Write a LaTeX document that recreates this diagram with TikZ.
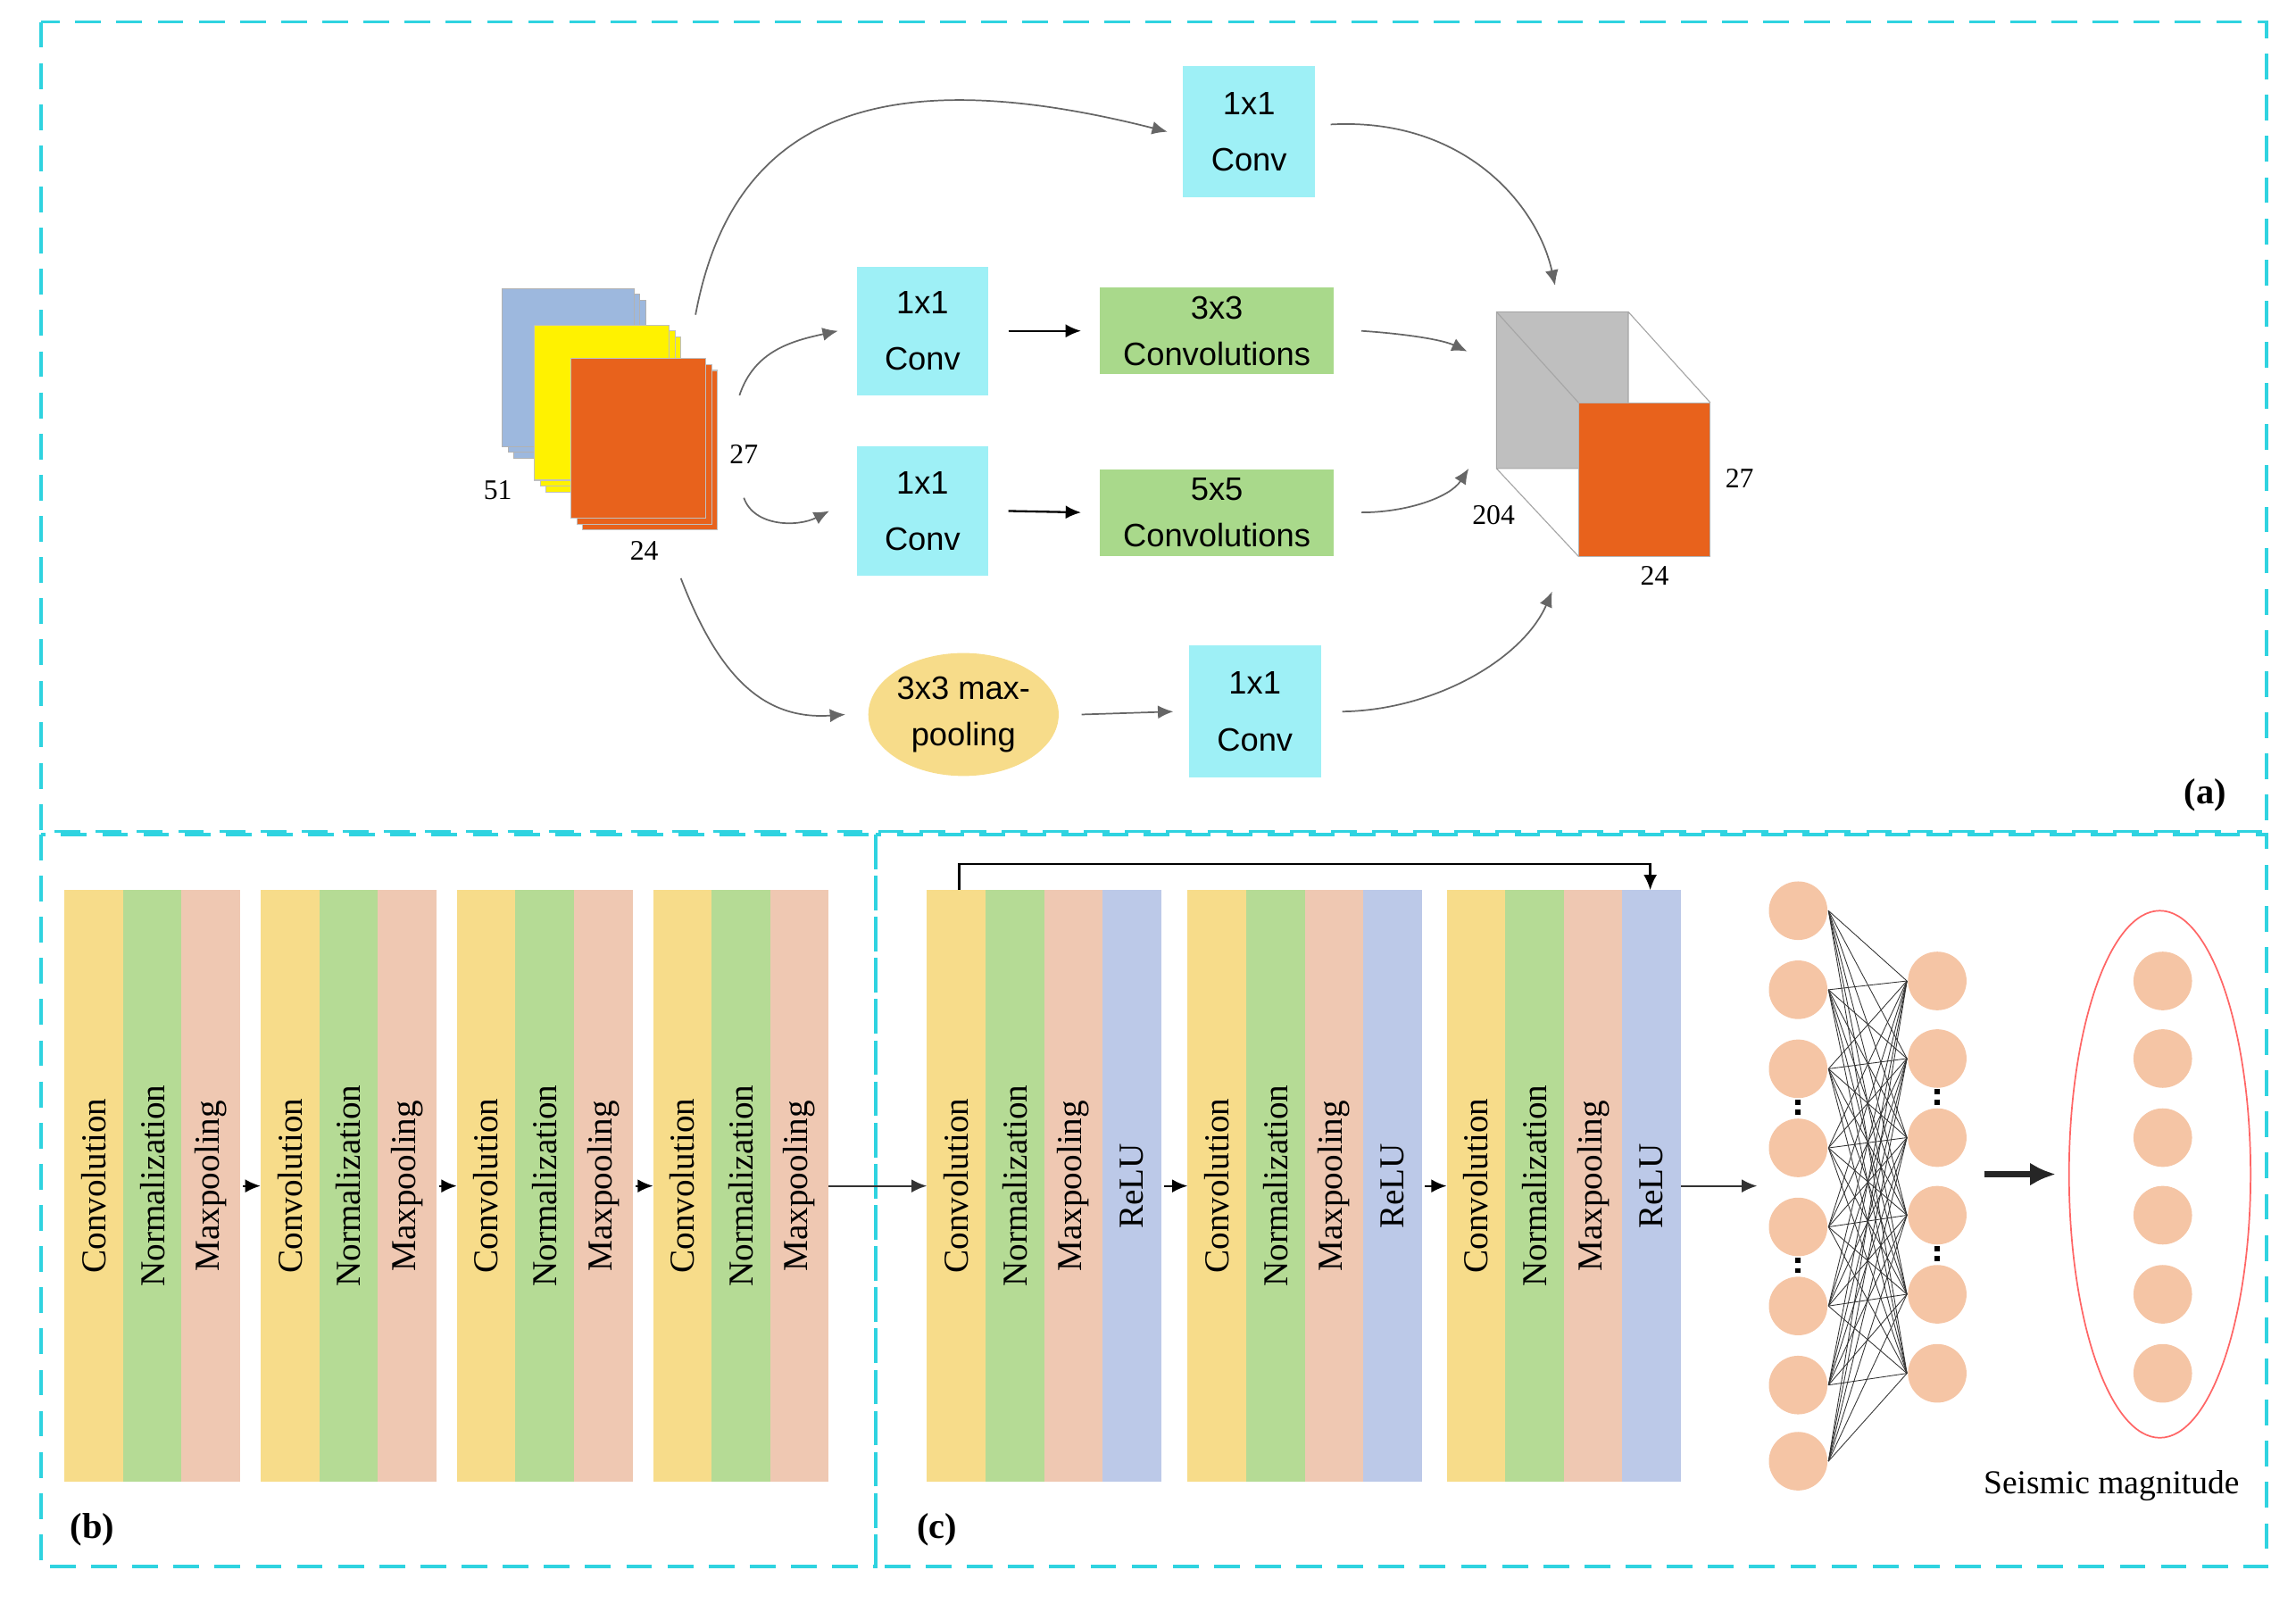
\documentclass[tikz,border=0pt]{standalone}
\usepackage{fontspec}
\setmainfont{Liberation Serif}
\newfontfamily\sansf{Liberation Sans}
\usetikzlibrary{arrows.meta,shapes.geometric}
\definecolor{cy}{HTML}{9EF0F6}
\definecolor{gr}{HTML}{A9D98B}
\definecolor{sy}{HTML}{F7DC8A}
\definecolor{sg}{HTML}{B5DB95}
\definecolor{sp}{HTML}{EFC8B2}
\definecolor{sb}{HTML}{BCC9E8}
\definecolor{ci}{HTML}{F5C5A5}
\definecolor{orng}{HTML}{E8621C}
\definecolor{frm}{HTML}{2FD3E0}
\definecolor{lb}{HTML}{9DB8DE}
\begin{document}
\begin{tikzpicture}[x=0.1mm,y=-0.1mm,
  box/.style={draw=none,fill=#1,font=\sansf\fontsize{6.3}{8}\selectfont,align=center,inner sep=0},
  arr/.style={-{Latex[length=3,width=2.6]},gray!80!black,line width=0.3pt},
  karr/.style={-{Latex[length=3,width=2.6]},black,line width=0.4pt},
  lab/.style={font=\fontsize{5.5}{6}\selectfont},
  stxt/.style={rotate=90,font=\fontsize{6.8}{8}\selectfont},
  neu/.style={circle,fill=ci,minimum size=4mm,inner sep=0},
  dframe/.style={frm,line width=0.6pt,dash pattern=on 5pt off 3pt}]
\useasboundingbox (0,0) rectangle (1568,1101);
% frames
\draw[dframe] (28,15) rectangle (1548,568);
\draw[dframe] (28,570) rectangle (598,1070);
\draw[dframe] (598,570) rectangle (1548,1070);
\node[font=\bfseries\fontsize{7}{8}\selectfont] (la) at (1506,543) {(a)};
\node[font=\bfseries\fontsize{7}{8}\selectfont] (lb) at (63,1045) {(b)};
\node[font=\bfseries\fontsize{7}{8}\selectfont] (lc) at (640,1045) {(c)};
% input stack
\foreach \d in {8,4,0}{\fill[lb,draw=gray!60,line width=0.2pt] (343+\d,197+\d) rectangle ++(90,108);}
\foreach \d in {8,4,0}{\fill[yellow,draw=gray!50,line width=0.2pt] (365+\d,222+\d) rectangle ++(92,106);}
\foreach \d in {8,4,0}{\fill[orng,draw=gray!50,line width=0.2pt] (390+\d,245+\d) rectangle ++(92,109);}
\node[lab] (n51) at (340,335) {51};
\node[lab] (n27) at (508,310) {27};
\node[lab] (n24) at (440,376) {24};
\coordinate (inT) at (475,215);
\coordinate (inR1) at (505,270);
\coordinate (inR2) at (508,340);
\coordinate (inB) at (465,395);
% boxes
\node[box=cy,minimum width=9mm,minimum height=9mm] (c1) at (853,90) {1x1\\[3pt]Conv};
\node[box=cy,minimum width=9mm,minimum height=8.8mm] (c2) at (630,226) {1x1\\[3pt]Conv};
\node[box=cy,minimum width=9mm,minimum height=8.8mm] (c3) at (630,349) {1x1\\[3pt]Conv};
\node[box=cy,minimum width=9mm,minimum height=9mm] (c4) at (857,486) {1x1\\[3pt]Conv};
\node[box=gr,minimum width=16mm,minimum height=5.9mm] (g1) at (831,226) {3x3\\[1pt]Convolutions};
\node[box=gr,minimum width=16mm,minimum height=5.9mm] (g2) at (831,350) {5x5\\[1pt]Convolutions};
\node[ellipse,fill=sy,minimum width=13mm,minimum height=8.4mm,inner sep=0,font=\sansf\fontsize{6.3}{8}\selectfont,align=center] (mp) at (658,488) {3x3 max-\\[1pt]pooling};
% output cube
\fill[gray!50] (1022,213) rectangle (1112,320);
\draw[gray!70,line width=0.2pt] (1022,213) -- (1078,275) (1112,213)--(1168,275) (1022,320)--(1078,380) (1112,320)--(1168,380) (1022,213) rectangle (1112,320);
\fill[orng,draw=gray!60,line width=0.2pt] (1078,275) rectangle (1168,380);
\node[lab] (o204) at (1020,352) {204};
\node[lab] (o27) at (1188,327) {27};
\node[lab] (o24) at (1130,393) {24};
\coordinate (oT) at (1062,195);
\coordinate (o1) at (1002,240);
\coordinate (o2) at (1003,320);
\coordinate (oB) at (1060,404);
% arrows
\draw[arr] (inT) .. controls (500,80) and (600,40) .. ([xshift=-1mm]c1.west);
\draw[arr] (inR1) .. controls (515,240) and (540,233) .. ([xshift=-1.2mm]c2.west);
\draw[arr] (inR2) .. controls (515,360) and (545,360) .. ([xshift=-1.8mm]c3.west);
\draw[arr] (inB) .. controls (490,460) and (520,492) .. ([xshift=-1.5mm]mp.west);
\draw[karr] ([xshift=1.3mm]c2.east) -- ([xshift=-1.2mm]g1.west);
\draw[karr] ([xshift=1.3mm]c3.east) -- ([xshift=-1.2mm]g2.west);
\draw[arr] ([xshift=1.5mm]mp.east) -- ([xshift=-1mm]c4.west);
\draw[arr] ([xshift=1mm,yshift=0.5mm]c1.east) .. controls (1000,80) and (1050,140) .. (oT);
\draw[arr] ([xshift=1.8mm]g1.east) .. controls (960,228) and (985,232) .. (o1);
\draw[arr] ([xshift=1.8mm]g2.east) .. controls (960,350) and (990,340) .. (o2);
\draw[arr] ([xshift=1.4mm]c4.east) .. controls (980,485) and (1040,450) .. (oB);
% (b) strips
\foreach \i/\x in {1/44,2/178,3/312,4/446}{
  \fill[sy] (\x,608) rectangle ++(40,404);
  \fill[sg] (\x+40,608) rectangle ++(40,404);
  \fill[sp] (\x+80,608) rectangle ++(40,404);
  \node[stxt] (b\i a) at (\x+20,810) {Convolution};
  \node[stxt] (b\i b) at (\x+60,810) {Normalization};
  \node[stxt] (b\i c) at (\x+100,810) {Maxpooling};
  \coordinate (bL\i) at (\x,810);
  \coordinate (bR\i) at (\x+122,810);
}
\draw[karr] (bR1) -- (bL2);
\draw[karr] (bR2) -- (bL3);
\draw[karr] (bR3) -- (bL4);
% (c) strips
\foreach \i/\x in {1/633,2/811,3/988}{
  \fill[sy] (\x,608) rectangle ++(40,404);
  \fill[sg] (\x+40,608) rectangle ++(40,404);
  \fill[sp] (\x+80,608) rectangle ++(40,404);
  \fill[sb] (\x+120,608) rectangle ++(40,404);
  \node[stxt] (c\i a) at (\x+20,810) {Convolution};
  \node[stxt] (c\i b) at (\x+60,810) {Normalization};
  \node[stxt] (c\i c) at (\x+100,810) {Maxpooling};
  \node[stxt] (c\i d) at (\x+140,810) {ReLU};
  \coordinate (cL\i) at (\x,810);
  \coordinate (cR\i) at (\x+162,810);
}
\draw[karr,gray!40!black] (566,810) -- (cL1);
\draw[karr] (cR1) -- (cL2);
\draw[karr] (cR2) -- (cL3);
\coordinate (sk1) at (655,608);
\coordinate (sk2) at (1127,608);
\draw[karr] (sk1) -- (655,590) -- (1127,590) -- (sk2);
% NN
\foreach \i/\y in {1/622,2/676,3/730,4/784,5/838,6/892,7/946,8/998}{\node[neu] (L\i) at (1228,\y) {};}
\foreach \j/\y in {1/670,2/723,3/777,4/830,5/884,6/938}{\node[neu] (R\j) at (1323,\y) {};}
\foreach \i in {1,...,8}{\foreach \j in {1,...,6}{\draw[line width=0.15pt,gray!40!black] (L\i.east) -- (R\j.west);}}
\draw[karr,gray!40!black] (1148,810) -- (1200,810);
\foreach \y in {757,865}{\draw[line width=1pt,dash pattern=on 1pt off 1pt] (1228,\y-6) -- (1228,\y+6);}
\foreach \y in {750,857}{\draw[line width=1pt,dash pattern=on 1pt off 1pt] (1323,\y-6) -- (1323,\y+6);}
\draw[-{Latex[length=5,width=4.5]},line width=1.3pt,gray!30!black] (1355,802) -- (1404,802);
\node[ellipse,draw=red!60,line width=0.3pt,minimum width=12.4mm,minimum height=36mm,inner sep=0] (out) at (1475,802) {};
\foreach \k/\y in {1/670,2/723,3/777,4/830,5/884,6/938}{\node[neu] (P\k) at (1477,\y) {};}
\node[font=\fontsize{6.5}{8}\selectfont] (sm) at (1442,1015) {Seismic magnitude};
\end{tikzpicture}
\end{document}
